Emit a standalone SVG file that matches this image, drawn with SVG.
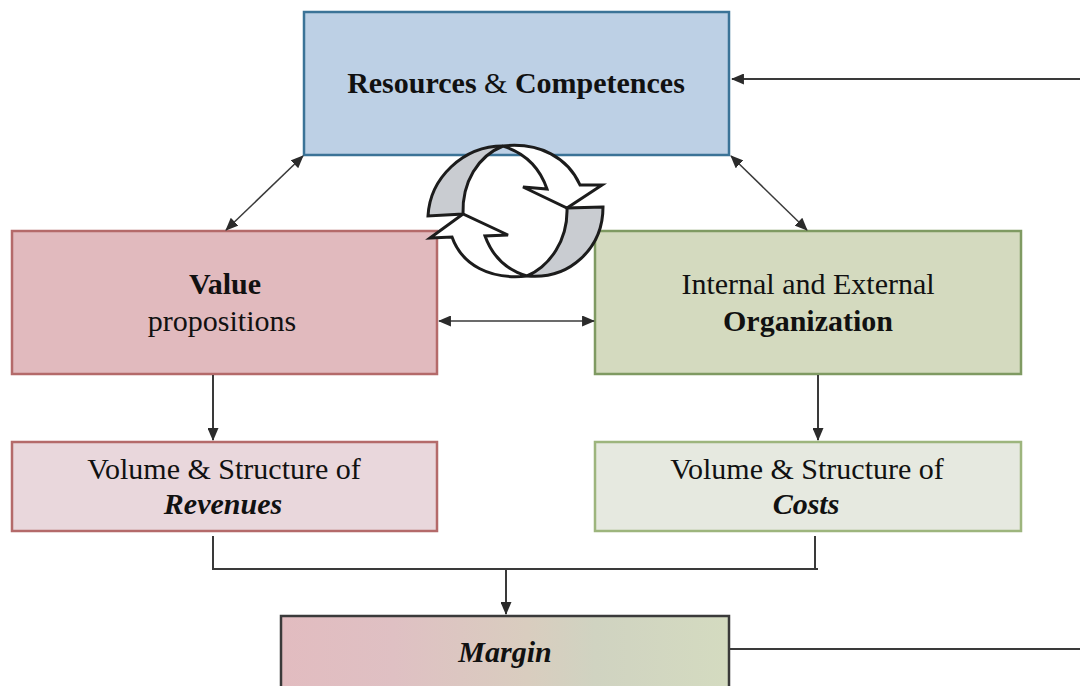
<svg xmlns="http://www.w3.org/2000/svg" width="1080" height="686" viewBox="0 0 1080 686">
<defs>
<linearGradient id="mg" x1="0" y1="0" x2="1" y2="0"><stop offset="0" stop-color="#e2bcc0"/><stop offset="0.25" stop-color="#dfc0c3"/><stop offset="0.55" stop-color="#d9cdbf"/><stop offset="0.7" stop-color="#d0d3c1"/><stop offset="1" stop-color="#d4dbc0"/></linearGradient>
<marker id="ah" viewBox="0 0 14 12" markerWidth="13" markerHeight="11" refX="13" refY="6" orient="auto-start-reverse" markerUnits="userSpaceOnUse"><path d="M0,0L14,6L0,12Z" fill="#2b2b2b"/></marker>
</defs>
<style>
text{font-family:"Liberation Serif","Times New Roman",serif;font-size:30px;fill:#111;text-anchor:middle}
.b{font-weight:bold}.bi{font-weight:bold;font-style:italic}
.c{fill:none;stroke:#3a3a3a;stroke-width:2}
.i{stroke:#1c1c1c;stroke-width:3;stroke-linejoin:miter}
</style>
<rect width="1080" height="686" fill="#fff"/>
<g id="node-resources"><rect x="304" y="12" width="425" height="143" fill="#bdd0e5" stroke="#3b7397" stroke-width="2.5"/><text class="b" x="516" y="93">Resources <tspan font-weight="normal">&amp;</tspan> Competences</text></g>
<g id="node-value"><rect x="12" y="231" width="425" height="143" fill="#e1babe" stroke="#b46a6a" stroke-width="2.5"/><text class="b" x="225" y="294">Value</text><text x="222" y="331">propositions</text></g>
<g id="node-organization"><rect x="595" y="231" width="426" height="143" fill="#d4dabf" stroke="#7f9a62" stroke-width="2.5"/><text x="808" y="294">Internal and External</text><text class="b" x="808" y="331">Organization</text></g>
<g id="node-revenues"><rect x="12" y="442" width="425" height="89" fill="#e9d7dc" stroke="#b46a6a" stroke-width="2.5"/><text x="224" y="479">Volume &amp; Structure of</text><text class="bi" x="223" y="514">Revenues</text></g>
<g id="node-costs"><rect x="595" y="442" width="426" height="89" fill="#e6e9e0" stroke="#9db57d" stroke-width="2.5"/><text x="807" y="479">Volume &amp; Structure of</text><text class="bi" x="806" y="514">Costs</text></g>
<g id="node-margin"><rect x="281" y="616" width="448" height="80" fill="url(#mg)" stroke="#3a3a3a" stroke-width="2.5"/><text class="bi" x="505" y="662">Margin</text></g>
<g id="connectors">
<path class="c" d="M1080,79H732" marker-end="url(#ah)"/>
<path class="c" style="stroke-width:1.5" d="M303,156L226,230" marker-start="url(#ah)" marker-end="url(#ah)"/>
<path class="c" style="stroke-width:1.5" d="M731,156L807,230" marker-start="url(#ah)" marker-end="url(#ah)"/>
<path class="c" style="stroke-width:1.5" d="M439,321H594" marker-start="url(#ah)" marker-end="url(#ah)"/>
<path class="c" d="M213,375V440" marker-end="url(#ah)"/>
<path class="c" d="M818,375V440" marker-end="url(#ah)"/>
<path class="c" d="M213,536V569H818M815,536V569"/>
<path class="c" d="M506,569V614" marker-end="url(#ah)"/>
<path class="c" d="M729,649H1080"/>
</g>
<g id="cycle-icon">
<path class="i" fill="#fff" d="M503,146C540,142 568,158 580,185L602,185L567,208L523,187L547,189C540,168 525,153 503,146Z"/>
<path class="i" fill="#c9ccd1" d="M428,216C430,178 463,146 503,146C478,156 462,182 463,214Z"/>
<path class="i" fill="#c9ccd1" d="M603,207L567,208C568,240 550,266 527,276C570,280 603,248 603,207Z"/>
<path class="i" fill="#fff" d="M527,276C490,280 462,265 452,237L430,238L463,214L508,235L485,236C492,255 506,270 527,276Z"/>
</g>
</svg>
